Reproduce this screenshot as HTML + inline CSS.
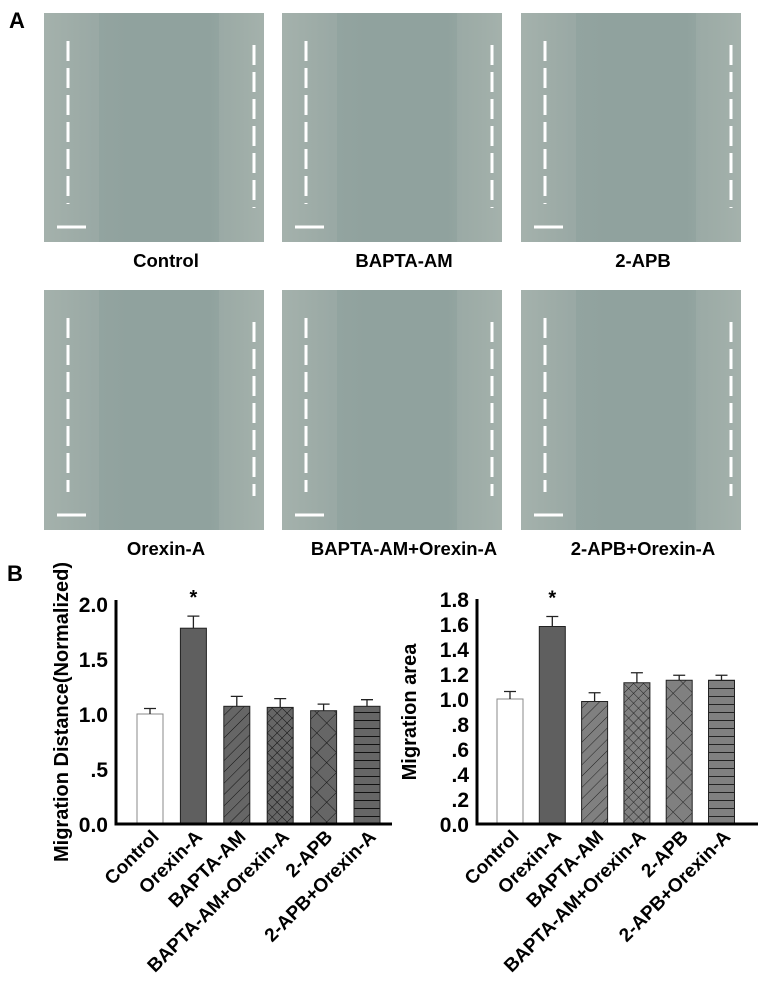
<!DOCTYPE html>
<html><head><meta charset="utf-8"><style>
body{margin:0;background:#fff;font-family:"Liberation Sans",Arial,sans-serif}
svg{display:block}
text{font-family:"Liberation Sans",Arial,sans-serif;font-weight:bold}
</style></head><body>
<svg id="fig" width="761" height="986" viewBox="0 0 761 986">
<defs>
<linearGradient id="photoG" x1="0" x2="1" y1="0" y2="0">
<stop offset="0" stop-color="#a2b0ab"/><stop offset="0.22" stop-color="#93a4a0"/><stop offset="0.4" stop-color="#90a29e"/><stop offset="0.75" stop-color="#90a29e"/><stop offset="0.9" stop-color="#9aaaa5"/><stop offset="1" stop-color="#a2b0ab"/>
</linearGradient>
<pattern id="pDiag" width="8" height="8" patternUnits="userSpaceOnUse" patternTransform="rotate(45)"><rect width="8" height="8" fill="#808080"/><line x1="0" y1="0" x2="0" y2="8" stroke="#222" stroke-width="1"/></pattern>
<pattern id="pDiagL" width="8" height="8" patternUnits="userSpaceOnUse" patternTransform="rotate(45)"><rect width="8" height="8" fill="#666"/><line x1="0" y1="0" x2="0" y2="8" stroke="#111" stroke-width="1"/></pattern>
<pattern id="pCross" width="7" height="7" patternUnits="userSpaceOnUse" patternTransform="rotate(45)"><rect width="7" height="7" fill="#666"/><path d="M0 0V7M0 0H7" stroke="#111" stroke-width="1"/></pattern>
<pattern id="pCrossR" width="7" height="7" patternUnits="userSpaceOnUse" patternTransform="rotate(45)"><rect width="7" height="7" fill="#808080"/><path d="M0 0V7M0 0H7" stroke="#222" stroke-width="1"/></pattern>
<pattern id="pBig" width="14" height="14" patternUnits="userSpaceOnUse" patternTransform="rotate(45)"><rect width="14" height="14" fill="#666"/><path d="M0 0V14M0 0H14" stroke="#111" stroke-width="1"/></pattern>
<pattern id="pBigR" width="14" height="14" patternUnits="userSpaceOnUse" patternTransform="rotate(45)"><rect width="14" height="14" fill="#808080"/><path d="M0 0V14M0 0H14" stroke="#222" stroke-width="1"/></pattern>
<pattern id="pHor" width="8" height="8" patternUnits="userSpaceOnUse"><rect width="8" height="8" fill="#666"/><line x1="0" y1="0.5" x2="8" y2="0.5" stroke="#111" stroke-width="1"/></pattern>
<pattern id="pHorR" width="8" height="8" patternUnits="userSpaceOnUse"><rect width="8" height="8" fill="#808080"/><line x1="0" y1="0.5" x2="8" y2="0.5" stroke="#222" stroke-width="1"/></pattern>
</defs>
<text x="9" y="28" font-size="22">A</text>
<text x="7" y="581" font-size="22">B</text>
<g id="photos"></g>
<g id="chartL"></g>
<g id="chartR"></g>
</svg>
<script>
const NS='http://www.w3.org/2000/svg';
function mk(tag,attrs,parent){const e=document.createElementNS(NS,tag);for(const k in attrs)e.setAttribute(k,attrs[k]);parent.appendChild(e);return e;}

// ---- photos ----
const photoLabels=['Control','BAPTA-AM','2-APB','Orexin-A','BAPTA-AM+Orexin-A','2-APB+Orexin-A'];
const photosG=document.getElementById('photos');
const px=[44,282,521],py=[13,290],pw=220,ph=[229,240];
photoLabels.forEach((lab,i)=>{
  const c=i%3,r=Math.floor(i/3);
  const x=px[c],y=py[r],h=ph[r];
  const g=mk('g',{},photosG);
  
  
  mk('rect',{x:x,y:y,width:pw,height:h,fill:'url(#photoG)'},g);
  mk('rect',{x:x,y:y,width:55,height:h,fill:'#a8b4ae',opacity:0.35},g);
  mk('rect',{x:x+pw-45,y:y,width:45,height:h,fill:'#a8b4ae',opacity:0.35},g);
  const d1=mk('line',{x1:x+24,y1:y+28,x2:x+24,y2:y+h-38,stroke:'#fff','stroke-width':3,'stroke-dasharray':'20,7'},g);
  
  
  const d2=mk('line',{x1:x+pw-10,y1:y+32,x2:x+pw-10,y2:y+h-34,stroke:'#fff','stroke-width':3,'stroke-dasharray':'20,7'},g);
  
  
  const sb=mk('line',{x1:x+13,y1:y+h-15,x2:x+42,y2:y+h-15,stroke:'#fff','stroke-width':3},g);
  
  
  const t=mk('text',{x:x+pw/2+12,y:y+h+25,'font-size':18.5,'text-anchor':'middle'},g);
  t.textContent=lab;
  
  
});

// ---- charts ----
const categories=['Control','Orexin-A','BAPTA-AM','BAPTA-AM+Orexin-A','2-APB','2-APB+Orexin-A'];
const distValues=[1.0,1.78,1.07,1.06,1.03,1.07];
const distErrors=[0.05,0.11,0.09,0.08,0.06,0.06];
const distTicks=['0.0','.5','1.0','1.5','2.0'];
const distTickVals=[0,0.5,1.0,1.5,2.0];
const areaValues=[1.0,1.58,0.98,1.13,1.15,1.15];
const areaErrors=[0.06,0.08,0.07,0.08,0.04,0.04];
const areaTicks=['0.0','.2','.4','.6','.8','1.0','1.2','1.4','1.6','1.8'];
const areaTickVals=[0,0.2,0.4,0.6,0.8,1.0,1.2,1.4,1.6,1.8];

function drawChart(g,o){
  const yS=v=>o.base-(v/o.max)*(o.base-o.top);
  const xS=i=>o.x0+o.first+i*o.step;
  o.values.forEach((v,i)=>{
    const cx=xS(i);
    const b=mk('rect',{x:cx-o.bw/2,y:yS(v),width:o.bw,height:o.base-yS(v),fill:o.fills[i],stroke:i==0?'#888':'#222','stroke-width':1},g);
    
    
    const e=o.errors[i];
    const eb=mk('path',{d:`M${cx} ${yS(v)}V${yS(v+e)}M${cx-6} ${yS(v+e)}H${cx+6}`,stroke:'#222','stroke-width':1.3,fill:'none'},g);
    
    
    const lab=mk('text',{x:cx+10,y:o.base+14,'font-size':19,'text-anchor':'end',transform:`rotate(-45 ${cx+10} ${o.base+14})`},g);
    lab.textContent=categories[i];
    
    
  });
  const st=mk('text',{x:xS(1),y:yS(o.values[1]+o.errors[1])-12,'font-size':20,'text-anchor':'middle'},g);
  st.textContent='*';
  
  
  const ax=mk('path',{d:`M${o.x0} ${o.top}V${o.base}H${o.xEnd}`,stroke:'#000','stroke-width':3,fill:'none'},g);
  
  
  o.tickVals.forEach((v,i)=>{
    const t=mk('text',{x:o.x0-8,y:yS(v)+8,'font-size':21,'text-anchor':'end'},g);
    t.textContent=o.ticks[i];
    
    
  });
  const yl=mk('text',{x:o.ylx,y:o.yly,'font-size':20,'text-anchor':'middle',transform:`rotate(-90 ${o.ylx} ${o.yly})`},g);
  yl.textContent=o.ylabel;
  
  
}
const gL=document.getElementById('chartL');


drawChart(gL,{x0:116,xEnd:392,top:600,base:824,max:2.0/(220/224),first:34,step:43.4,bw:26,
  values:distValues,errors:distErrors,ticks:distTicks,tickVals:distTickVals,
  fills:['#fff','#5f5f5f','url(#pDiagL)','url(#pCross)','url(#pBig)','url(#pHor)'],
  ylabel:'Migration Distance(Normalized)',ylx:68,yly:712});
const gR=document.getElementById('chartR');


drawChart(gR,{x0:477,xEnd:758,top:599,base:824,max:1.8,first:33,step:42.3,bw:26,
  values:areaValues,errors:areaErrors,ticks:areaTicks,tickVals:areaTickVals,
  fills:['#fff','#5f5f5f','url(#pDiag)','url(#pCrossR)','url(#pBigR)','url(#pHorR)'],
  ylabel:'Migration area',ylx:416,yly:712});
</script>
</body></html>
